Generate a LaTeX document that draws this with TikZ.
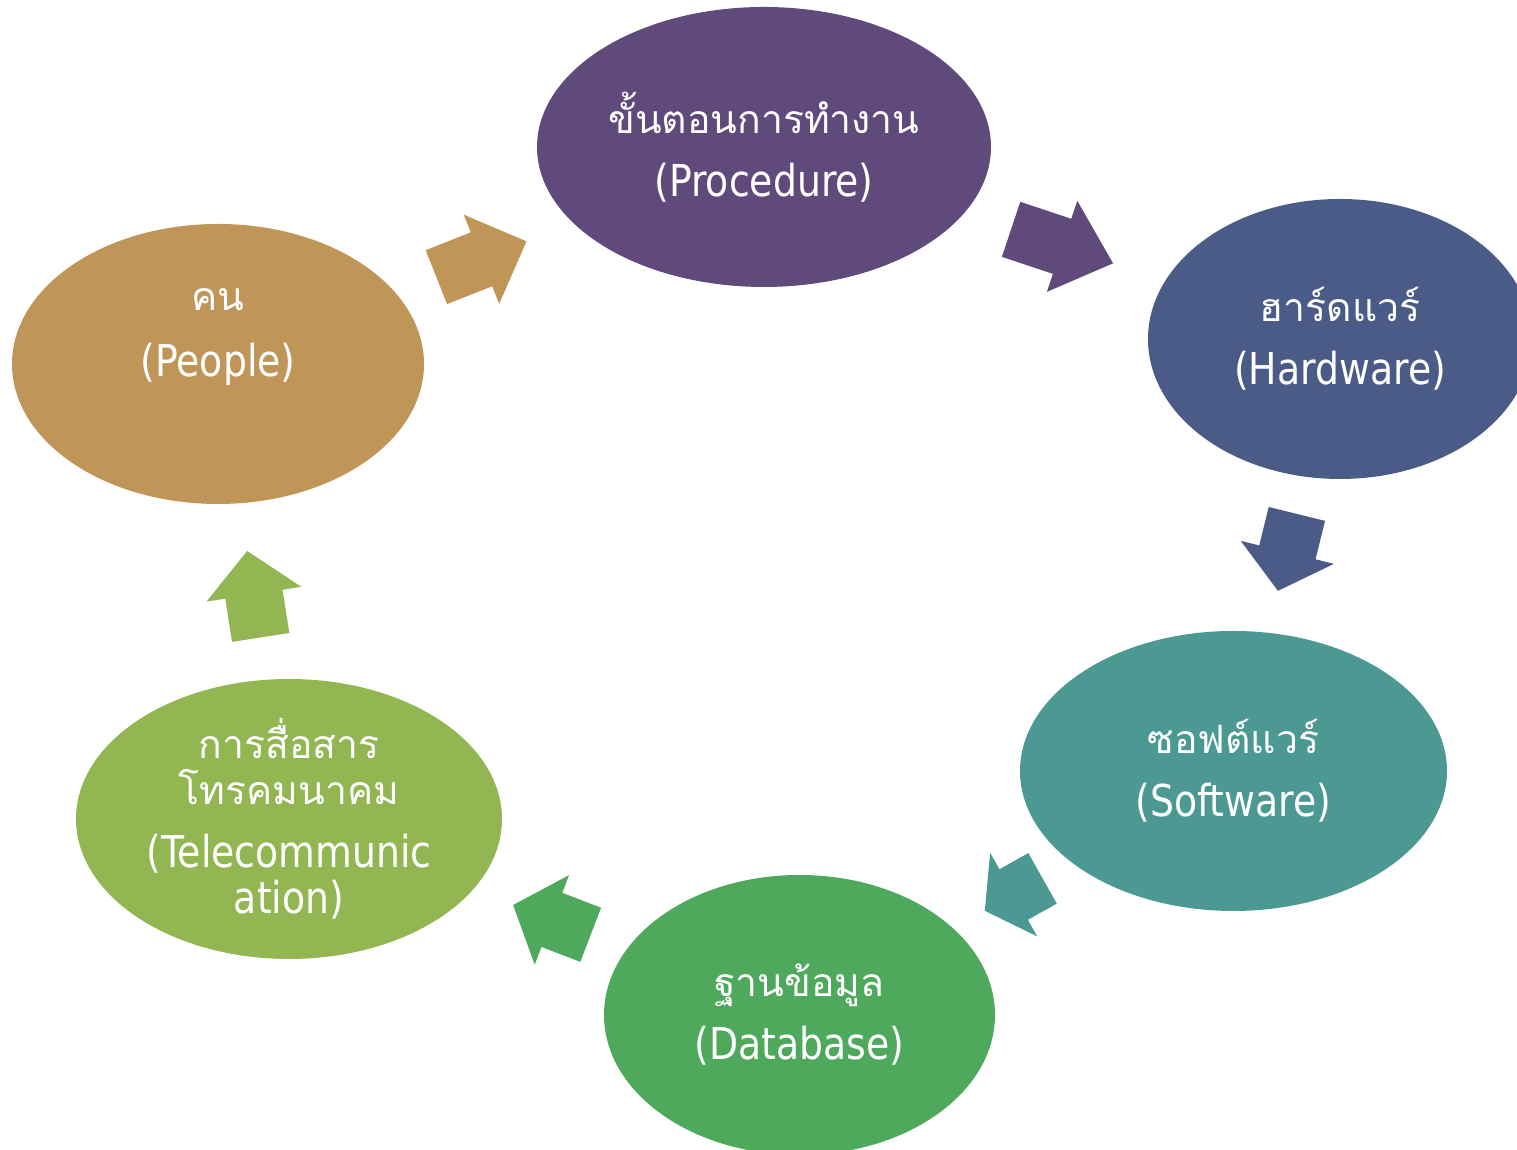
\documentclass[tikz,border=0pt]{standalone}
\usepackage{fontspec}
\setmainfont{DejaVu Sans}[FakeStretch=0.86]
\newfontfamily\thaifont[Script=Thai,Scale=0.89]{Loma}
\usetikzlibrary{shapes.geometric,calc}

\definecolor{procpurple}{HTML}{604A7B}
\definecolor{hwblue}{HTML}{4A5B87}
\definecolor{swteal}{HTML}{4C9893}
\definecolor{dbgreen}{HTML}{4EA95D}
\definecolor{telgreen}{HTML}{92B651}
\definecolor{pplgold}{HTML}{C09658}

\newcommand{\labelfont}{\fontsize{12.5pt}{13.1pt}\selectfont\lineskiplimit=-20pt}

% block arrow between two ellipses: from, to, start, end, colour
\newcommand{\cyclearrow}[5]{%
  \coordinate (T) at ($(#1.center)!#3!(#2.center)$);
  \coordinate (E) at ($(#1.center)!#4!(#2.center)$);
  \coordinate (J) at ($(T)!0.5!(E)$);
  \fill[#5] ($(T)!0.29cm!90:(E)$) -- ($(J)!0.29cm!90:(E)$) -- ($(J)!0.48cm!90:(E)$) -- (E)
    -- ($(J)!0.48cm!-90:(E)$) -- ($(J)!0.29cm!-90:(E)$) -- ($(T)!0.29cm!-90:(E)$) -- cycle;
}

\begin{document}
\begin{tikzpicture}[
    cyclenode/.style={
        ellipse,
        fill=#1,
        text=white,
        align=center,
        font=\labelfont,
        minimum height=2.80cm,
        inner xsep=0pt,
        inner ysep=-4pt
    }
]
\useasboundingbox (0,0) rectangle (15.17,11.50);
\clip (0,0) rectangle (15.17,11.50);

\node[cyclenode=procpurple, minimum width=4.54cm] (proc) at (7.64,10.03) {{\thaifont ขั้นตอนการทำงาน}\\[4.8pt](Procedure)};
\node[cyclenode=hwblue, minimum width=3.84cm] (hw) at (13.40,8.11) {{\thaifont ฮาร์ดแวร์}\\[4.8pt](Hardware)};
\node[cyclenode=swteal, minimum width=4.27cm] (sw) at (12.335,3.79) {{\thaifont ซอฟต์แวร์}\\[4.8pt](Software)};
\node[cyclenode=dbgreen, minimum width=3.91cm] (db) at (7.995,1.35) {{\thaifont ฐานข้อมูล}\\[4.8pt](Database)};
\node[cyclenode=telgreen, minimum width=4.26cm] (tel) at (2.89,3.31) {{\thaifont การสื่อสาร}\\{\thaifont โทรคมนาคม}\\[4.8pt](Telecommunic\\ation)};
\node[cyclenode=pplgold, minimum width=4.12cm] (ppl) at (2.18,7.86) {{\thaifont คน}\\[5.8pt](People)\\[4.8pt]\mbox{}};

\cyclearrow{ppl}{proc}{0.400}{0.565}{pplgold}
\cyclearrow{proc}{hw}{0.429}{0.606}{procpurple}
\cyclearrow{hw}{sw}{0.405}{0.583}{hwblue}
\cyclearrow{sw}{db}{0.440}{0.573}{swteal}
\cyclearrow{db}{tel}{0.409}{0.561}{dbgreen}
\cyclearrow{tel}{ppl}{0.399}{0.589}{telgreen}
\end{tikzpicture}
\end{document}
